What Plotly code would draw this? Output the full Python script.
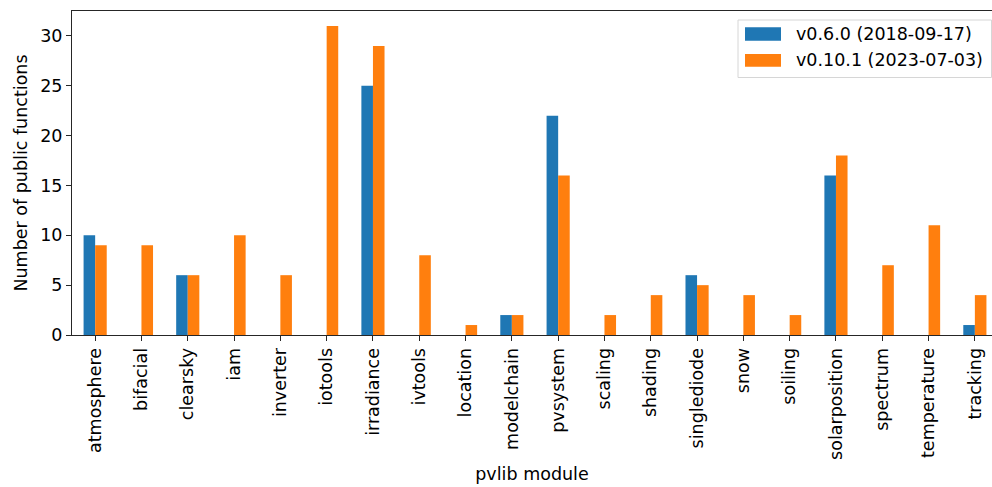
import plotly.graph_objects as go

modules = ["atmosphere", "bifacial", "clearsky", "iam", "inverter", "iotools",
           "irradiance", "ivtools", "location", "modelchain", "pvsystem", "scaling",
           "shading", "singlediode", "snow", "soiling", "solarposition", "spectrum",
           "temperature", "tracking"]
v060 = [10, 0, 6, 0, 0, 0, 25, 0, 0, 2, 22, 0, 0, 6, 0, 0, 16, 0, 0, 1]
v0101 = [9, 9, 6, 10, 6, 31, 29, 8, 1, 2, 16, 2, 4, 5, 4, 2, 18, 7, 11, 4]
series_names = ["v0.6.0 (2018-09-17)", "v0.10.1 (2023-07-03)"]
colors = ["#1f77b4", "#ff7f0e"]
yticks = [0, 5, 10, 15, 20, 25, 30]

FONT = "DejaVu Sans"
FS = 17.5
AX = "#262626"

W, H = 992, 487
L, R, T, B = 72, 0, 11, 152
PW, PH = W - L - R, H - T - B


def px(x):
    return (x - L) / PW


def py(y):
    return (H - B - y) / PH


fig = go.Figure()
for name, vals, c in zip(series_names, [v060, v0101], colors):
    fig.add_trace(go.Bar(x=list(range(len(modules))), y=vals, name=name,
                         marker=dict(color=c, line=dict(width=0)), showlegend=False))

# legend drawn as box + swatches + text (matplotlib style)
shapes = [dict(type="rect", xref="paper", yref="paper",
               x0=px(738), x1=px(991.5), y0=py(77.5), y1=py(20),
               line=dict(color="#d6d6d6", width=1), fillcolor="rgba(255,255,255,0.8)",
               layer="above")]
annotations = []
rows = [(27.3, 40.7, 34), (54, 66.7, 60)]
for (y0, y1, yc), name, c in zip(rows, series_names, colors):
    shapes.append(dict(type="rect", xref="paper", yref="paper",
                       x0=px(745), x1=px(781), y0=py(y1), y1=py(y0),
                       line=dict(width=0), fillcolor=c, layer="above"))
    annotations.append(dict(xref="paper", yref="paper", x=px(794), y=py(yc),
                            xanchor="left", yanchor="middle", showarrow=False,
                            text=name, font=dict(family=FONT, size=FS, color="black")))

fig.update_layout(
    width=W, height=H,
    margin=dict(l=L, r=R, t=T, b=B),
    paper_bgcolor="white", plot_bgcolor="white",
    font=dict(family=FONT, size=FS, color="black"),
    barmode="group", bargap=0.5, bargroupgap=0,
    showlegend=False,
    shapes=shapes, annotations=annotations,
    xaxis=dict(range=[-0.5, 19.37], tickmode="array",
               tickvals=list(range(len(modules))), ticktext=modules,
               tickangle=-90, ticks="outside", ticklen=5, tickwidth=1, tickcolor=AX,
               showline=True, linecolor=AX, linewidth=1, mirror=True,
               showgrid=False, zeroline=False,
               tickfont=dict(family=FONT, size=FS, color="black"),
               title=dict(text="pvlib module", font=dict(family=FONT, size=FS), standoff=8)),
    yaxis=dict(range=[0, 32.5], tickmode="array", tickvals=yticks,
               ticks="outside", ticklen=5, tickwidth=1, tickcolor=AX,
               showline=True, linecolor=AX, linewidth=1, mirror=False,
               showgrid=False, zeroline=False,
               tickfont=dict(family=FONT, size=FS, color="black"),
               title=dict(text="Number of public functions", font=dict(family=FONT, size=FS), standoff=8)),
)

fig.write_html("out.html", config={"displayModeBar": False},
               post_script="document.body.style.margin='0';")
